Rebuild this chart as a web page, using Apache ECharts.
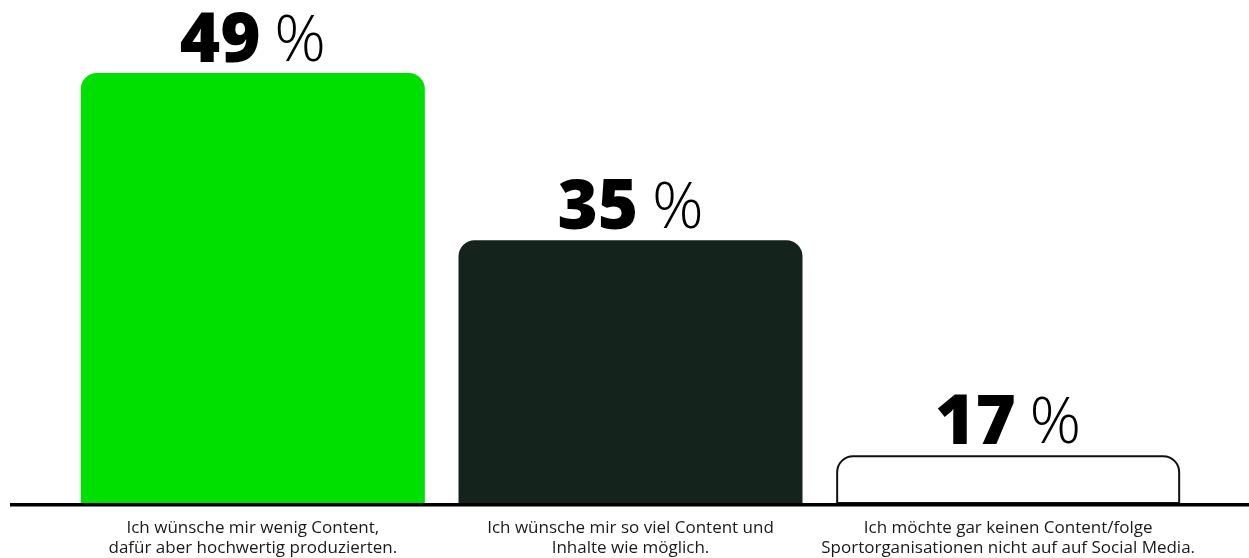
<!DOCTYPE html>
<html>
<head>
<meta charset="utf-8">
<script src="https://cdn.jsdelivr.net/npm/echarts@6/dist/echarts.min.js"></script>
<style>
  html, body { margin: 0; padding: 0; background: #ffffff; }
  #chart { width: 1249px; height: 558px; }
</style>
</head>
<body>
<div id="chart"></div>
<script>
// Answer options (category axis labels, two lines each)
const categories = [
  'Ich wünsche mir wenig Content,\ndafür aber hochwertig produzierten.',
  'Ich wünsche mir so viel Content und\nInhalte wie möglich.',
  'Ich möchte gar keinen Content/folge\nSportorganisationen nicht auf auf Social Media.'
];
// Share of respondents per answer, in percent
const shares = [49, 35, 17];
// Fill colour per answer
const barColors = ['#00e000', '#14231c', '#ffffff'];
const barBorders = ['#00e000', '#14231c', '#111111'];

const chart = echarts.init(document.getElementById('chart'), null, { renderer: 'canvas' });

const option = {
  backgroundColor: '#ffffff',
  animation: false,
  grid: { left: 64, right: 52, top: 73, bottom: 55, containLabel: false },
  xAxis: {
    type: 'category',
    data: categories,
    axisLine: { show: false },
    axisTick: { show: false },
    axisLabel: {
      interval: 0,
      margin: 15,
      color: '#1a1a1a',
      fontFamily: 'Open Sans',
      fontSize: 17,
      lineHeight: 20,
      align: 'center'
    }
  },
  yAxis: {
    type: 'value',
    min: 13,
    max: 49,
    show: false,
    splitLine: { show: false }
  },
  series: [{
    type: 'bar',
    barWidth: 344,
    data: shares.map((v, i) => ({
      value: v,
      itemStyle: {
        color: barColors[i],
        borderColor: barBorders[i],
        borderWidth: i === 2 ? 2 : 0
      }
    })),
    itemStyle: { borderRadius: [16, 16, 0, 0] },
    label: {
      show: true,
      position: 'top',
      distance: -4,
      formatter: p => '{n|' + p.value + '}{p| %}',
      rich: {
        n: {
          fontFamily: 'Open Sans',
          fontWeight: 800,
          fontSize: 69,
          color: '#000000'
        },
        p: {
          fontFamily: 'Open Sans',
          fontWeight: 300,
          fontSize: 64,
          padding: [0, 0, 0, -3],
          color: '#000000'
        }
      }
    }
  }],
  graphic: [{
    type: 'line',
    z: 100,
    shape: { x1: 10, y1: 504.8, x2: 1249, y2: 504.8 },
    style: { stroke: '#000000', lineWidth: 3.6 }
  }]
};

chart.setOption(option);
</script>
</body>
</html>
